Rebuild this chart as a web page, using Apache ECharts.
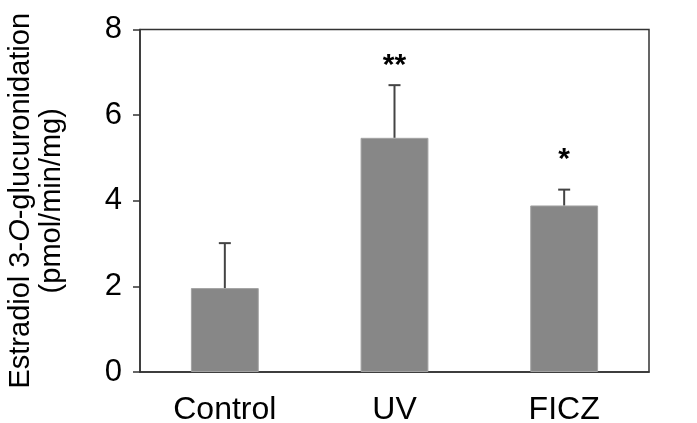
<!DOCTYPE html>
<html>
<head>
<meta charset="utf-8">
<script src="https://cdn.jsdelivr.net/npm/echarts@6/dist/echarts.min.js"></script>
<style>html,body{margin:0;padding:0;background:#fff}#c{width:697px;height:423px}</style>
</head>
<body>
<div id="c"></div>
<script>
var categories = ['Control', 'UV', 'FICZ'];
var means = [1.96, 5.47, 3.89];
var upperErr = [3.01, 6.70, 4.26];
var sigLabels = ['', '**', '*'];
var sigY = [null, 7.15, 4.95];
var yTicks = [0, 2, 4, 6, 8];

var chart = echarts.init(document.getElementById('c'));
var font = '"Liberation Sans", Arial, Helvetica, sans-serif';
chart.setOption({
  animation: false,
  grid: {left: 140, right: 48, top: 29.5, bottom: 51, outerBoundsMode: 'none', containLabel: false, show: true, borderColor: '#333', borderWidth: 1.5, backgroundColor: 'transparent'},
  xAxis: {
    type: 'category', data: categories,
    axisLine: {lineStyle: {color: '#333', width: 1.5}},
    axisTick: {show: false},
    axisLabel: {color: '#000', fontSize: 32, fontFamily: font, margin: 22}
  },
  yAxis: {
    type: 'value', min: yTicks[0], max: yTicks[yTicks.length - 1], interval: 2,
    axisLine: {show: true, lineStyle: {color: '#333', width: 1.5}},
    axisTick: {show: true, length: 7, lineStyle: {color: '#333', width: 1.5}},
    splitLine: {show: false},
    axisLabel: {color: '#000', fontSize: 31, fontFamily: font, margin: 18},
    name: '{a|Estradiol 3-}{i|O}{a|-glucuronidation}\n{a|(pmol/min/mg)}',
    nameLocation: 'middle', nameRotate: 90, nameGap: 73,
    nameTextStyle: {
      color: '#000', fontFamily: font, fontSize: 29, lineHeight: 31,
      rich: {
        a: {fontSize: 29, fontFamily: font, color: '#000', lineHeight: 31},
        i: {fontSize: 29, fontFamily: font, color: '#000', fontStyle: 'italic', lineHeight: 31}
      }
    }
  },
  series: [
    {
      type: 'bar', data: means, barWidth: '40%',
      itemStyle: {color: '#878787', borderColor: '#a3a3a3', borderWidth: 1},
      z: 2
    },
    {
      type: 'custom', z: 3,
      data: categories.map(function (c, i) { return [i, means[i], upperErr[i]]; }),
      renderItem: function (params, api) {
        var p0 = api.coord([api.value(0), api.value(1)]);
        var p1 = api.coord([api.value(0), api.value(2)]);
        var style = {stroke: '#444', lineWidth: 2};
        return {type: 'group', children: [
          {type: 'line', shape: {x1: p0[0], y1: p0[1], x2: p1[0], y2: p1[1]}, style: style},
          {type: 'line', shape: {x1: p1[0] - 6, y1: p1[1], x2: p1[0] + 6, y2: p1[1]}, style: style}
        ]};
      }
    },
    {
      type: 'custom', z: 4,
      data: categories.map(function (c, i) { return [i, sigY[i] == null ? 0 : sigY[i], sigLabels[i]]; }),
      renderItem: function (params, api) {
        var i = params.dataIndex;
        if (!sigLabels[i]) return null;
        var p = api.coord([api.value(0), sigY[i]]);
        return {type: 'text', x: p[0], y: p[1], style: {text: sigLabels[i], fill: '#000', font: 'bold 30px ' + font, align: 'center', verticalAlign: 'middle'}};
      }
    }
  ]
});
</script>
</body>
</html>
